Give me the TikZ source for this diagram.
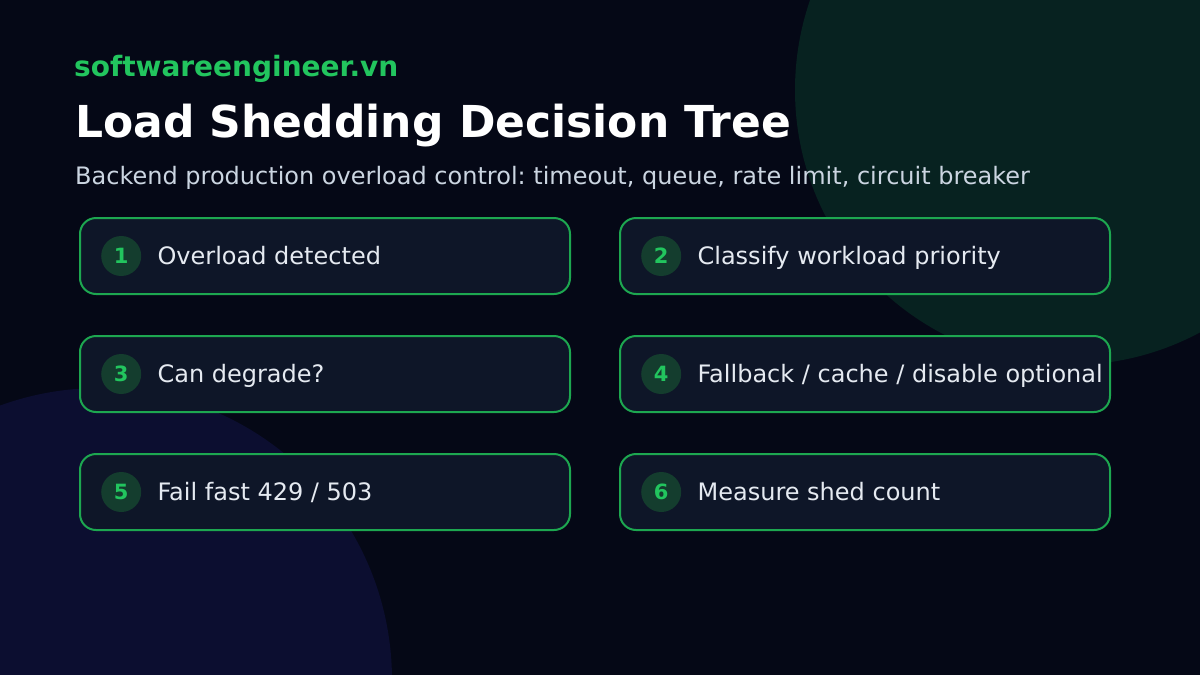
\documentclass[tikz,border=0pt]{standalone}
\usepackage{fontspec}
\setmainfont{DejaVu Sans}
\usetikzlibrary{positioning}
\definecolor{bgnavy}{HTML}{050816}
\definecolor{blobgreen}{HTML}{072220}
\definecolor{blobblue}{HTML}{0C0E30}
\definecolor{cardfill}{HTML}{0E1628}
\definecolor{accent}{HTML}{22C55E}
\definecolor{numfill}{HTML}{143D2E}
\definecolor{subgray}{HTML}{CBD5E1}
\definecolor{cardtext}{HTML}{E5EAF1}
\frenchspacing
\begin{document}
\begin{tikzpicture}[x=1pt, y=-1pt,
    card/.style={rectangle, rounded corners=16pt, draw=accent!85!black, line width=2pt,
                 fill=cardfill, minimum width=490pt, minimum height=76pt},
    num/.style={circle, fill=numfill, minimum size=40pt, inner sep=0pt,
                text=accent, font=\fontsize{21}{24}\selectfont\bfseries},
    steptext/.style={inner sep=0pt, text=cardtext, text height=17pt, text depth=0pt,
                     font=\fontsize{24}{28}\selectfont}]
  \useasboundingbox (0,0) rectangle (1200,675);
  \fill[bgnavy] (0,0) rectangle (1200,675);
  \clip (0,0) rectangle (1200,675);
  \fill[blobgreen] (1070,90) circle (275);
  \fill[blobblue] (100,680) circle (292);

  \node[anchor=base west, inner sep=0pt, text=accent, font=\fontsize{28}{32}\selectfont\bfseries]
    (brand) at (74,76) {softwareengineer.vn};
  \node[anchor=base west, inner sep=0pt, text=white, font=\fontsize{44}{50}\selectfont\bfseries]
    (title) at (75,137) {Load Shedding Decision Tree};
  \node[anchor=base west, inner sep=0pt, text=subgray, font=\fontsize{24}{28}\selectfont]
    (subtitle) at (75,184) {Backend production overload control: timeout, queue, rate limit, circuit breaker};

  \node[card] (c1) at (325,256) {};
  \node[num, right=22pt of c1.west] (n1) {1};
  \node[steptext, right=16pt of n1] (t1) {Overload detected};

  \node[card] (c2) at (865,256) {};
  \node[num, right=22pt of c2.west] (n2) {2};
  \node[steptext, right=16pt of n2] (t2) {Classify workload priority};

  \node[card] (c3) at (325,374) {};
  \node[num, right=22pt of c3.west] (n3) {3};
  \node[steptext, right=16pt of n3] (t3) {Can degrade?};

  \node[card] (c4) at (865,374) {};
  \node[num, right=22pt of c4.west] (n4) {4};
  \node[steptext, right=16pt of n4] (t4) {Fallback / cache / disable optional};

  \node[card] (c5) at (325,492) {};
  \node[num, right=22pt of c5.west] (n5) {5};
  \node[steptext, right=16pt of n5] (t5) {Fail fast 429 / 503};

  \node[card] (c6) at (865,492) {};
  \node[num, right=22pt of c6.west] (n6) {6};
  \node[steptext, right=16pt of n6] (t6) {Measure shed count};
\end{tikzpicture}
\end{document}
